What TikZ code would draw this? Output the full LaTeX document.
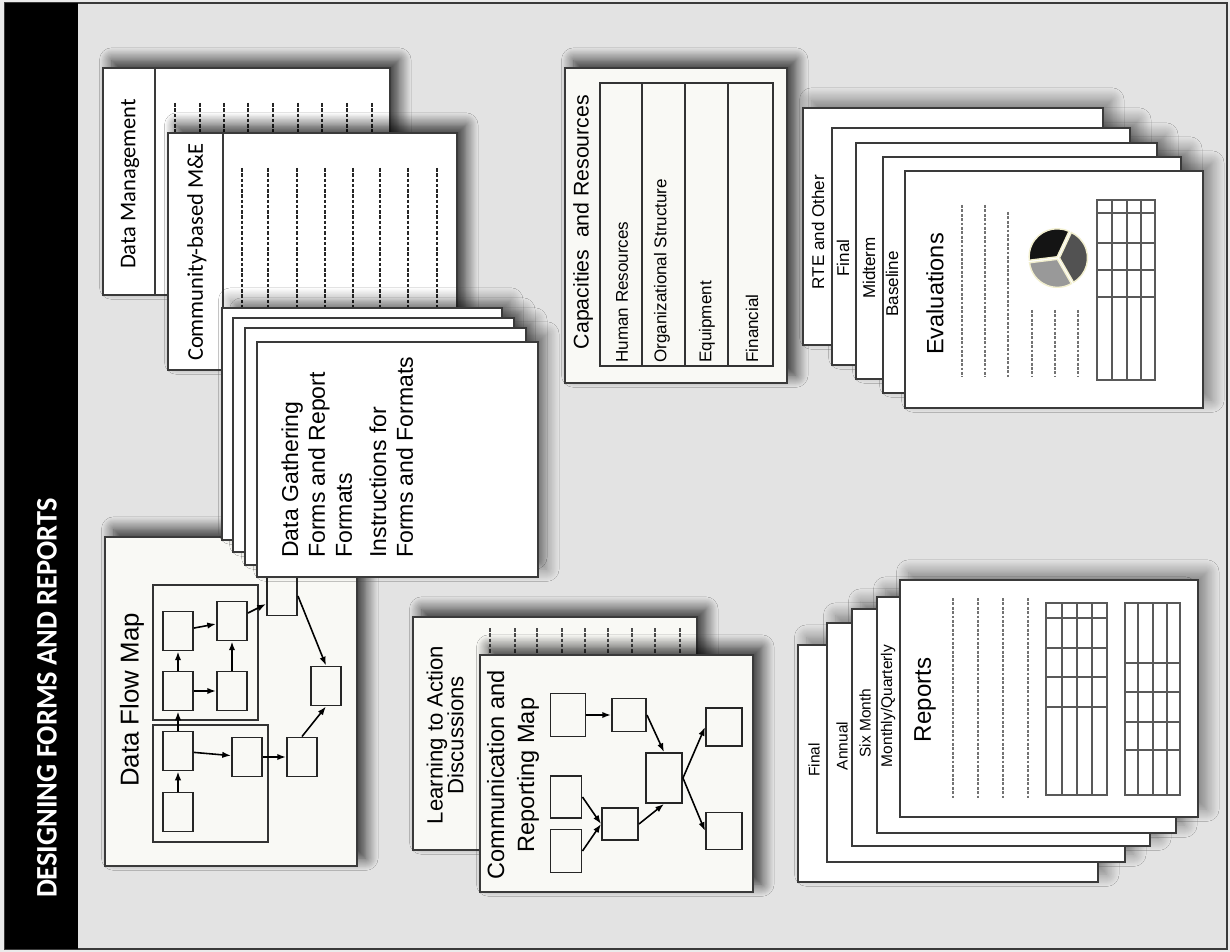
\documentclass[tikz,border=0pt]{standalone}
\usepackage{fontspec}
\setmainfont{Liberation Sans}
\newfontfamily\calfont{Carlito}
\newfontfamily\bandfont[FakeStretch=0.95]{Carlito}
\usetikzlibrary{arrows.meta,shadows.blur}

\definecolor{bggray}{HTML}{E3E3E3}
\definecolor{rim}{HTML}{3A3A3A}
\definecolor{offwhite}{HTML}{F9F9F5}
\definecolor{cream}{HTML}{F2EFCF}

\tikzset{
  sheet/.style={draw=rim, line width=0.6pt, fill=white},
  paper/.style={sheet, fill=offwhite},
  drop/.style={fill=white, blur shadow={shadow xshift=5pt, shadow yshift=4.5pt, shadow blur radius=7pt, shadow blur steps=14, shadow opacity=80}},
  dropstack/.style={fill=white, blur shadow={shadow xshift=5pt, shadow yshift=4.5pt, shadow blur radius=7pt, shadow blur steps=14, shadow opacity=45}},
  flowbox/.style={draw=black!85, line width=1.1pt, fill=offwhite, inner sep=0pt, minimum width=0.6cm, minimum height=0.78cm},
  mapbox/.style={draw=black!85, line width=1.1pt, fill=offwhite, inner sep=0pt},
  grp/.style={draw=black!80, line width=1pt},
  flow/.style={->, line width=0.9pt, black},
  txtline/.style={line width=1.3pt, dash pattern=on 2pt off 1pt, black!85},
  greyline/.style={line width=1.1pt, dash pattern=on 1.6pt off 0.9pt, black!55},
  thinline/.style={line width=0.6pt, dash pattern=on 2pt off 1pt, black!70},
  tbl/.style={draw=black!65, line width=0.7pt},
  up/.style={rotate=90, inner sep=0pt}
}

\begin{document}
\begin{tikzpicture}[x=0.02cm, y=-0.02cm, >={Latex[length=5pt,width=3.6pt]}]
  \useasboundingbox (0,0) rectangle (1230,952);
  % frame and title band
  \fill[black!8] (0,0) rectangle (1230,952);
  \draw[fill=bggray, draw=rim, line width=0.8pt] (5,3) rectangle (1227,949);
  \fill[black] (5,3) rectangle (78,949);
  \node[up, text=white, font=\bandfont\bfseries\fontsize{17}{20}\selectfont] (band) at (47,698) {DESIGNING FORMS AND REPORTS};

  % data management
  \path[drop] (103,68) rectangle (390,295);
  \draw[sheet] (103,68) rectangle (390,295) (155,68) -- (155,295);
  \foreach \x in {175,200,224,248,273,298,322,347,372}
    \draw[txtline] (\x,103) -- (\x,285);
  \node[up, font=\calfont\fontsize{12.8}{14}\selectfont] (dm) at (130,184) {Data Management};

  % community-based M&E
  \path[drop] (168,133) rectangle (457,370);
  \draw[sheet] (168,133) rectangle (457,370) (223,133) -- (223,370);
  \foreach \x in {242,268,297,325,353,380,408,437}
    \draw[txtline] (\x,168) -- (\x,360);
  \node[up, font=\calfont\fontsize{12.8}{14}\selectfont] (cbme) at (197,252) {Community-based M\&E};

  % data flow map
  \path[drop] (105,537) rectangle (357,866);
  \draw[paper] (105,537) rectangle (357,866);
  \node[up, font=\fontsize{14.7}{17}\selectfont] (dfm) at (132,700) {Data Flow Map};
  \draw[grp] (153,585) rectangle (258,720);
  \draw[grp] (153,725) rectangle (268,842);
  \node[flowbox] (a1) at (178,631) {};
  \node[flowbox] (a2) at (178,691) {};
  \node[flowbox] (b1) at (232,621) {};
  \node[flowbox] (b2) at (232,691) {};
  \node[flowbox] (c1) at (178,751) {};
  \node[flowbox] (c2) at (178,812) {};
  \node[flowbox] (d) at (247,757) {};
  \node[flowbox] (e) at (302,757) {};
  \node[flowbox] (f) at (326,686) {};
  \node[flowbox] (g) at (282,596) {};
  \draw[flow] (c2) -- (c1);
  \draw[flow] (c1) -- (a2);
  \draw[flow] (a2) -- (a1);
  \draw[flow] (a1) -- (b1);
  \draw[flow] (a2) -- (b2);
  \draw[flow] (b2) -- (b1);
  \draw[flow] (b1) -- (g);
  \draw[flow] (g.east) -- (f.north);
  \draw[flow] (c1) -- (d);
  \draw[flow] (d) -- (e);
  \draw[flow] (e.north) -- (f.south);

  % data gathering forms
  \foreach \xa/\ya/\xb/\yb in {222/308/502/540, 233/318/514/552, 245/328/526/565, 257/342/538/577}
    \path[dropstack] (\xa,\ya) rectangle (\xb,\yb);
  \foreach \xa/\ya/\xb/\yb in {222/308/502/540, 233/318/514/552, 245/328/526/565, 257/342/538/577}
    \draw[sheet] (\xa,\ya) rectangle (\xb,\yb);
  \node[up, anchor=north west, align=left, font=\fontsize{13.1}{15.3}\selectfont] (forms) at (281,558) {Data Gathering\\Forms and Report\\Formats};
  \node[up, anchor=north west, align=left, font=\fontsize{13.1}{15.3}\selectfont] (instr) at (369,558) {Instructions for\\Forms and Formats};

  % capacities and resources
  \path[drop] (565,68) rectangle (787,383);
  \draw[paper] (565,68) rectangle (787,383);
  \node[up, font=\fontsize{12.1}{14}\selectfont] (capres) at (583,222) {Capacities\ \ and Resources};
  \draw[line width=1.3pt, black!80] (600,83) rectangle (773,366);
  \foreach \x in {642,685,728}
    \draw[line width=1.3pt, black!80] (\x,83) -- (\x,366);
  \foreach \x/\lbl/\nm in {622/Human Resources/hr, 662/Organizational Structure/os, 707/Equipment/eq, 752/Financial/fin}
    \node[up, anchor=west, font=\fontsize{9.7}{11}\selectfont] (\nm) at (\x,363) {\lbl};

  % evaluations
  \foreach \xa/\ya/\xb/\yb in {803/108/1103/345, 832/128/1130/365, 856/143/1157/379, 883/157/1181/393, 905/171/1203/408}
    \path[dropstack] (\xa,\ya) rectangle (\xb,\yb);
  \foreach \xa/\ya/\xb/\yb in {803/108/1103/345, 832/128/1130/365, 856/143/1157/379, 883/157/1181/393, 905/171/1203/408}
    \draw[sheet] (\xa,\ya) rectangle (\xb,\yb);
  \foreach \x/\yc/\lbl/\nm in {818/232/RTE and Other/rte, 843/258/Final/efin, 869/268/Midterm/mid, 892/284/Baseline/base}
    \node[up, font=\fontsize{9.7}{11}\selectfont] (\nm) at (\x,\yc) {\lbl};
  \node[up, font=\fontsize{13.4}{15}\selectfont] (evals) at (935,294) {Evaluations};
  \foreach \x/\yc in {962/205, 985/205, 1008/212, 1032/310, 1055/310, 1078/310}
    \draw[greyline] (\x,\yc) -- (\x,377);
  \foreach \sa/\sb/\col in {65/187/black!92, 187/300/black!40, 300/425/black!68}
    \filldraw[fill=\col, draw=cream, line width=0.8pt, shift={({-(\sa+\sb)/2}:1.5)}] (1058,258) -- ++(-\sa:28) arc[start angle=-\sa, end angle=-\sb, radius=28] -- cycle;
  \draw[tbl] (1097,200) rectangle (1155,380);
  \foreach \x in {1112,1127,1141} \draw[tbl] (\x,200) -- (\x,380);
  \foreach \yc in {213,243,270,297} \draw[tbl] (1097,\yc) -- (1155,\yc);

  % learning to action and communication map
  \path[drop] (413,617) rectangle (697,850);
  \draw[paper] (413,617) rectangle (697,850);
  \foreach \x in {490,515,537,562,585,608,632,655,680}
    \draw[thinline] (\x,628) -- (\x,840);
  \node[up, align=center, font=\fontsize{12.6}{11.8}\selectfont] (l2a) at (445,735) {Learning to Action\\Discussions};
  \path[drop] (480,655) rectangle (753,892);
  \draw[paper] (480,655) rectangle (753,892);
  \node[up, align=center, font=\fontsize{13.4}{17}\selectfont] (crm) at (513,775) {Communication and\\Reporting Map};
  \node[mapbox, minimum width=0.7cm, minimum height=0.86cm] (r1) at (568,715) {};
  \node[mapbox, minimum width=0.68cm, minimum height=0.66cm] (r2) at (629,715) {};
  \node[mapbox, minimum width=0.72cm, minimum height=1cm] (r3) at (664,778) {};
  \node[mapbox, minimum width=0.72cm, minimum height=0.76cm] (r4) at (724,727) {};
  \node[mapbox, minimum width=0.72cm, minimum height=0.74cm] (r5) at (724,831) {};
  \node[mapbox, minimum width=0.62cm, minimum height=0.84cm] (r6) at (566,797) {};
  \node[mapbox, minimum width=0.62cm, minimum height=0.86cm] (r7) at (566,851) {};
  \node[mapbox, minimum width=0.72cm, minimum height=0.64cm] (r8) at (620,824) {};
  \draw[flow] (r1) -- (r2);
  \draw[flow] (r2.east) -- (r3.north);
  \draw[flow] (r3.east) -- (r4.west);
  \draw[flow] (r3.east) -- (r5.west);
  \draw[flow] (r6.east) -- (r8.west);
  \draw[flow] (r7.east) -- (r8.west);
  \draw[flow] (r8.east) -- (r3.south);

  % reports
  \foreach \xa/\ya/\xb/\yb in {798/645/1098/882, 827/623/1125/862, 852/609/1150/846, 877/597/1176/833, 900/580/1198/817}
    \path[dropstack] (\xa,\ya) rectangle (\xb,\yb);
  \foreach \xa/\ya/\xb/\yb in {798/645/1098/882, 827/623/1125/862, 852/609/1150/846, 877/597/1176/833, 900/580/1198/817}
    \draw[sheet] (\xa,\ya) rectangle (\xb,\yb);
  \foreach \x/\yc/\lbl/\nm in {814/760/Final/rfin, 842/746/Annual/ann, 865/723/Six Month/six}
    \node[up, font=\fontsize{8.8}{10}\selectfont] (\nm) at (\x,\yc) {\lbl};
  \node[up, font=\fontsize{8.8}{10}\selectfont] (mq) at (888,706) {Monthly/Quarterly};
  \node[up, font=\fontsize{13.7}{15}\selectfont] (reps) at (925,700) {Reports};
  \foreach \x in {953,978,1003,1028}
    \draw[greyline] (\x,598) -- (\x,800);
  \draw[tbl] (1046,603) rectangle (1107,795);
  \foreach \x in {1062,1077,1092} \draw[tbl] (\x,603) -- (\x,795);
  \foreach \yc in {618,648,677,707} \draw[tbl] (1046,\yc) -- (1107,\yc);
  \draw[tbl] (1125,603) rectangle (1180,795);
  \foreach \x in {1138,1153,1167} \draw[tbl] (\x,603) -- (\x,795);
  \foreach \yc in {663,692,722,750} \draw[tbl] (1125,\yc) -- (1180,\yc);
\end{tikzpicture}
\end{document}
